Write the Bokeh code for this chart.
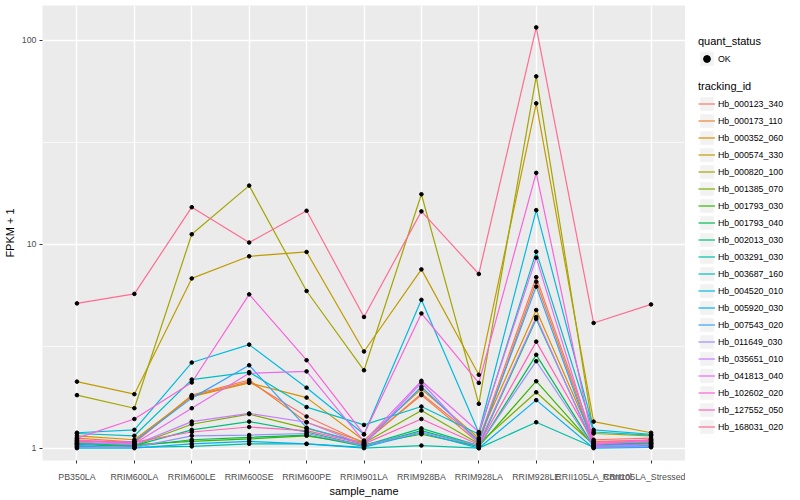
from bokeh.plotting import figure
from bokeh.layouts import row
from bokeh.models import (FactorRange, Range1d, FixedTicker, PrintfTickFormatter,
                          Legend, LegendItem)
from bokeh.embed import file_html
from bokeh.resources import INLINE

# ---------------- data ----------------
sample_names = ["PB350LA", "RRIM600LA", "RRIM600LE", "RRIM600SE", "RRIM600PE",
                "RRIM901LA", "RRIM928BA", "RRIM928LA", "RRIM928LE",
                "RRII105LA_Control", "RRII105LA_Stressed"]

tracking_ids = ["Hb_000123_340", "Hb_000173_110", "Hb_000352_060", "Hb_000574_330",
                "Hb_000820_100", "Hb_001385_070", "Hb_001793_030", "Hb_001793_040",
                "Hb_002013_030", "Hb_003291_030", "Hb_003687_160", "Hb_004520_010",
                "Hb_005920_030", "Hb_007543_020", "Hb_011649_030", "Hb_035651_010",
                "Hb_041813_040", "Hb_102602_020", "Hb_127552_050", "Hb_168031_020"]

series_colors = ["#F8766D", "#EA8331", "#D89000", "#C09B00", "#A3A500", "#7CAE00",
                 "#39B600", "#00BB4E", "#00BF7D", "#00C1A3", "#00BFC4", "#00BAE0",
                 "#00B0F6", "#35A2FF", "#9590FF", "#C77CFF", "#E76BF3", "#FA62DB",
                 "#FF62BC", "#FF6C91"]

hb_000123_340 = [1.08, 1.06, 1.80, 2.12, 1.43, 1.06, 1.85, 1.10, 6.90, 1.10, 1.12]
hb_000173_110 = [1.12, 1.07, 1.82, 2.16, 1.34, 1.07, 1.82, 1.06, 6.55, 1.06, 1.07]
hb_000352_060 = [1.15, 1.10, 1.79, 2.09, 1.77, 1.09, 1.95, 1.12, 4.76, 1.08, 1.09]
hb_000574_330 = [2.12, 1.84, 6.80, 8.73, 9.17, 2.98, 7.53, 2.29, 49.1, 1.35, 1.19]
hb_000820_100 = [1.82, 1.57, 11.2, 19.4, 5.90, 2.41, 17.6, 1.65, 66.6, 1.18, 1.15]
hb_001385_070 = [1.05, 1.03, 1.31, 1.47, 1.25, 1.06, 1.53, 1.05, 1.88, 1.04, 1.06]
hb_001793_030 = [1.06, 1.04, 1.08, 1.11, 1.15, 1.04, 1.17, 1.02, 2.13, 1.03, 1.05]
hb_001793_040 = [1.04, 1.02, 1.10, 1.13, 1.16, 1.02, 1.22, 1.02, 2.87, 1.02, 1.03]
hb_002013_030 = [1.05, 1.03, 1.23, 1.35, 1.20, 1.03, 1.25, 1.03, 4.30, 1.04, 1.06]
hb_003291_030 = [1.02, 1.01, 1.02, 1.05, 1.05, 1.00, 1.03, 1.00, 1.34, 1.01, 1.02]
hb_003687_160 = [1.18, 1.15, 2.17, 2.36, 1.59, 1.30, 1.60, 1.17, 9.20, 1.20, 1.16]
hb_004520_010 = [1.19, 1.23, 2.63, 3.22, 1.98, 1.17, 5.34, 1.19, 14.7, 1.23, 1.17]
hb_005920_030 = [1.00, 1.00, 1.05, 1.08, 1.05, 1.01, 1.19, 1.00, 1.72, 1.00, 1.01]
hb_007543_020 = [1.03, 1.08, 1.76, 2.55, 1.26, 1.05, 2.00, 1.08, 6.20, 1.03, 1.05]
hb_011649_030 = [1.01, 1.01, 1.15, 1.16, 1.18, 1.03, 1.20, 1.03, 2.67, 1.01, 1.02]
hb_035651_010 = [1.07, 1.04, 1.35, 1.48, 1.34, 1.04, 2.10, 1.05, 4.40, 1.02, 1.04]
hb_041813_040 = [1.10, 1.05, 1.57, 2.33, 2.38, 1.08, 2.14, 1.20, 8.60, 1.05, 1.08]
hb_102602_020 = [1.12, 1.39, 2.10, 5.68, 2.70, 1.17, 4.58, 2.09, 22.4, 1.04, 1.10]
hb_127552_050 = [1.09, 1.07, 1.20, 1.27, 1.22, 1.05, 1.39, 1.04, 3.33, 1.07, 1.10]
hb_168031_020 = [5.13, 5.71, 15.2, 10.2, 14.6, 4.40, 14.5, 7.15, 115.8, 4.11, 5.07]

series_values = [hb_000123_340, hb_000173_110, hb_000352_060, hb_000574_330,
                 hb_000820_100, hb_001385_070, hb_001793_030, hb_001793_040,
                 hb_002013_030, hb_003291_030, hb_003687_160, hb_004520_010,
                 hb_005920_030, hb_007543_020, hb_011649_030, hb_035651_010,
                 hb_041813_040, hb_102602_020, hb_127552_050, hb_168031_020]

quant_status = ["OK"]

y_ticks = [1, 10, 100]
y_minor = [10 ** 0.5, 10 ** 1.5]

FONT = "Liberation Sans"
NAN = float("nan")

# ---------------- main panel ----------------
p = figure(x_range=FactorRange(factors=sample_names, range_padding=0.1,
                               range_padding_units="absolute"),
           y_range=Range1d(0.870, 148.3), y_axis_type="log",
           frame_width=643, frame_height=455,
           min_border_left=32, min_border_right=0, min_border_top=5,
           min_border_bottom=35,
           output_backend="svg", toolbar_location=None,
           background_fill_color="#EBEBEB", border_fill_color="white",
           outline_line_color=None)

p.xgrid.grid_line_color = "white"
p.xgrid.grid_line_width = 1.4
p.ygrid.grid_line_color = "white"
p.ygrid.grid_line_width = 1.4
p.ygrid.minor_grid_line_color = "white"
p.ygrid.minor_grid_line_width = 0.7

p.yaxis.ticker = FixedTicker(ticks=y_ticks, minor_ticks=y_minor)
p.yaxis.formatter = PrintfTickFormatter(format="%d")
for ax in (p.xaxis[0], p.yaxis[0]):
    ax.axis_line_color = None
    ax.major_tick_line_color = "#333333"
    ax.major_tick_out = 3
    ax.major_tick_in = 0
    ax.minor_tick_line_color = None
    ax.major_label_text_font = FONT
    ax.major_label_text_font_size = "8.8px"
    ax.major_label_text_color = "#4D4D4D"
    ax.major_label_standoff = 2
    ax.axis_label_text_font = FONT
    ax.axis_label_text_font_size = "11px"
    ax.axis_label_text_font_style = "normal"
    ax.axis_label_text_color = "black"
    ax.axis_label_standoff = 3
p.xaxis.major_label_standoff = 8
p.xaxis.axis_label_standoff = 0
p.xaxis.axis_label = "sample_name"
p.yaxis.axis_label = "FPKM + 1"

for col, vals in zip(series_colors, series_values):
    p.line(x=sample_names, y=vals, line_color=col, line_width=1.2)

pts_x, pts_y = [], []
for vals in series_values:
    pts_x.extend(sample_names)
    pts_y.extend(vals)
p.scatter(x=pts_x, y=pts_y, marker="circle", size=3.6,
          fill_color="black", line_color="black")

# ---------------- legend panel (keys use non-drawn NaN placeholders) ----------------
lf = figure(width=109, height=484, x_range=Range1d(0, 1), y_range=Range1d(0, 1),
            x_axis_type=None, y_axis_type=None,
            min_border_left=0, min_border_right=0, min_border_top=0,
            min_border_bottom=0, output_backend="svg", toolbar_location=None,
            background_fill_color="white", border_fill_color="white",
            outline_line_color=None)

key_bg = lf.quad(left=[NAN], right=[NAN], top=[NAN], bottom=[NAN],
                 fill_color="#F2F2F2", line_color=None)
pt_key = lf.scatter(x=[NAN], y=[NAN], marker="circle", size=4,
                    fill_color="black", line_color="black")
line_items = []
for name, col in zip(tracking_ids, series_colors):
    r = lf.line(x=[NAN, NAN], y=[NAN, NAN], line_color=col, line_width=1.2)
    line_items.append(LegendItem(label=name, renderers=[key_bg, r]))


def style_legend(lg):
    lg.border_line_color = None
    lg.background_fill_alpha = 0
    lg.padding = 0
    lg.margin = 0
    lg.spacing = 0
    lg.glyph_width = 17
    lg.glyph_height = 17
    lg.label_height = 17
    lg.label_standoff = 3
    lg.title_standoff = 3
    lg.label_text_font = FONT
    lg.label_text_font_size = "8.8px"
    lg.label_text_color = "black"
    lg.title_text_font = FONT
    lg.title_text_font_size = "11px"
    lg.title_text_font_style = "normal"
    lg.title_text_color = "black"


leg_status = Legend(items=[LegendItem(label=quant_status[0], renderers=[key_bg, pt_key])],
                    title="quant_status", location=(13, 378))
style_legend(leg_status)
leg_ids = Legend(items=line_items, title="tracking_id", location=(13, 10))
style_legend(leg_ids)
lf.add_layout(leg_status)
lf.add_layout(leg_ids)

layout = row(p, lf)
open("out.html", "w").write(file_html(layout, INLINE))
